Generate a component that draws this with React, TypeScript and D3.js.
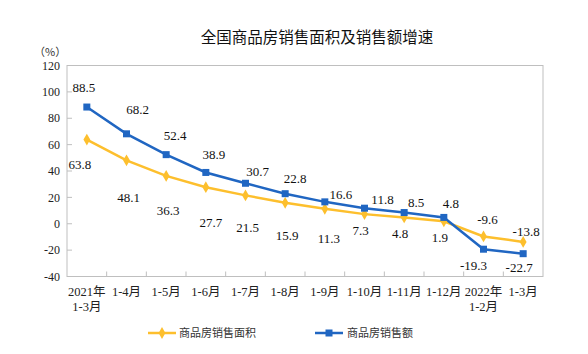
import * as d3 from "d3";

const categories = [
  ["2021年", "1-3月"],
  ["1-4月"],
  ["1-5月"],
  ["1-6月"],
  ["1-7月"],
  ["1-8月"],
  ["1-9月"],
  ["1-10月"],
  ["1-11月"],
  ["1-12月"],
  ["2022年", "1-2月"],
  ["1-3月"],
];

const areaGrowth = [63.8, 48.1, 36.3, 27.7, 21.5, 15.9, 11.3, 7.3, 4.8, 1.9, -9.6, -13.8];
const salesGrowth = [88.5, 68.2, 52.4, 38.9, 30.7, 22.8, 16.6, 11.8, 8.5, 4.8, -19.3, -22.7];
const yTicks = [-40, -20, 0, 20, 40, 60, 80, 100, 120];

// label nudges (dx, dy) relative to each point, as placed in the original
const areaNudge: [number, number][] = [
  [-7, 25], [2, 37], [2, 35], [5, 35], [2, 32], [2, 33], [4, 30],
  [-4, 16], [-4, 16], [-4, 16], [4, -17], [3, -10],
];
const salesNudge: [number, number][] = [
  [-3, -20], [11, -24], [9, -19], [8, -18], [12, -12], [10, -15], [16, -7],
  [18, -9], [12, -10], [7, -14], [-10, 16], [-4, 14],
];

const W = 588;
const H = 354;
const margin = { left: 67, right: 45, top: 65.5, bottom: 77.5 };

const yellow = "#FDBF2D";
const blue = "#2066C2";
const grid = "#BFBFBF";
const serif = "'Liberation Serif', 'Noto Sans CJK SC', serif";
const cjk = "'Noto Sans CJK SC', sans-serif";

export default function App() {
  const x = d3
    .scaleBand<number>()
    .domain(d3.range(categories.length))
    .range([margin.left, W - margin.right]);
  const y = d3.scaleLinear().domain([-40, 120]).range([H - margin.bottom, margin.top]);
  const cx = (i: number) => (x(i) ?? 0) + x.bandwidth() / 2;

  const line = d3
    .line<number>()
    .x((_, i) => cx(i))
    .y((d) => y(d));

  const diamond = d3.symbol().type(d3.symbolDiamond).size(40)();

  const x0 = margin.left;
  const x1 = W - margin.right;
  const y0 = margin.top;
  const y1 = H - margin.bottom;

  return (
    <svg width={W} height={H} style={{ position: "absolute", left: 0, top: 0, background: "#fff" }}>
      <text x={317} y={43} textAnchor="middle" fontSize={15.5} fontFamily={cjk} fill="#111">
        全国商品房销售面积及销售额增速
      </text>
      <text x={34} y={56} fontSize={11} fontFamily={cjk} fill="#333">
        （%）
      </text>

      {/* frame */}
      <rect x={x0} y={y0} width={x1 - x0} height={y1 - y0} fill="none" stroke={grid} strokeWidth={1} />

      {yTicks.map((t) => (
        <g key={t}>
          <line x1={x0} x2={x0 + 5} y1={y(t)} y2={y(t)} stroke={grid} />
          <text x={60} y={y(t)} dy="0.35em" textAnchor="end" fontSize={12} fontFamily={serif} fill="#222">
            {t}
          </text>
        </g>
      ))}

      {d3.range(1, categories.length).map((i) => (
        <line key={i} x1={x(i)} x2={x(i)} y1={y1} y2={y1 - 5} stroke={grid} />
      ))}

      {categories.map((lines, i) => (
        <text key={i} x={cx(i)} y={296} textAnchor="middle" fontSize={12.5} fontFamily={serif} fill="#222">
          {lines.map((s, k) => (
            <tspan key={k} x={cx(i)} dy={k === 0 ? 0 : 15}>
              {s}
            </tspan>
          ))}
        </text>
      ))}

      <path d={line(areaGrowth) ?? ""} fill="none" stroke={yellow} strokeWidth={2.5} />
      <path d={line(salesGrowth) ?? ""} fill="none" stroke={blue} strokeWidth={2.5} />

      {areaGrowth.map((v, i) => (
        <path key={i} d={diamond ?? ""} transform={`translate(${cx(i)},${y(v)})`} fill={yellow} />
      ))}
      {salesGrowth.map((v, i) => (
        <rect key={i} x={cx(i) - 3.5} y={y(v) - 3.5} width={7} height={7} fill={blue} />
      ))}

      {areaGrowth.map((v, i) => (
        <text
          key={i}
          x={cx(i) + areaNudge[i][0]}
          y={y(v) + areaNudge[i][1]}
          dy="0.35em"
          textAnchor="middle"
          fontSize={13}
          fontFamily={serif}
          fill="#111"
        >
          {v}
        </text>
      ))}
      {salesGrowth.map((v, i) => (
        <text
          key={i}
          x={cx(i) + salesNudge[i][0]}
          y={y(v) + salesNudge[i][1]}
          dy="0.35em"
          textAnchor="middle"
          fontSize={13}
          fontFamily={serif}
          fill="#111"
        >
          {v}
        </text>
      ))}

      {/* legend */}
      <g transform="translate(148,333)">
        <line x1={0} x2={28} y1={0} y2={0} stroke={yellow} strokeWidth={2.5} />
        <path d={diamond ?? ""} transform="translate(14,0)" fill={yellow} />
        <text x={31} y={0} dy="0.35em" fontSize={11} fontFamily={cjk} fill="#333">
          商品房销售面积
        </text>
      </g>
      <g transform="translate(315,333)">
        <line x1={0} x2={28} y1={0} y2={0} stroke={blue} strokeWidth={2.5} />
        <rect x={10.5} y={-3.5} width={7} height={7} fill={blue} />
        <text x={32} y={0} dy="0.35em" fontSize={11} fontFamily={cjk} fill="#333">
          商品房销售额
        </text>
      </g>
    </svg>
  );
}
